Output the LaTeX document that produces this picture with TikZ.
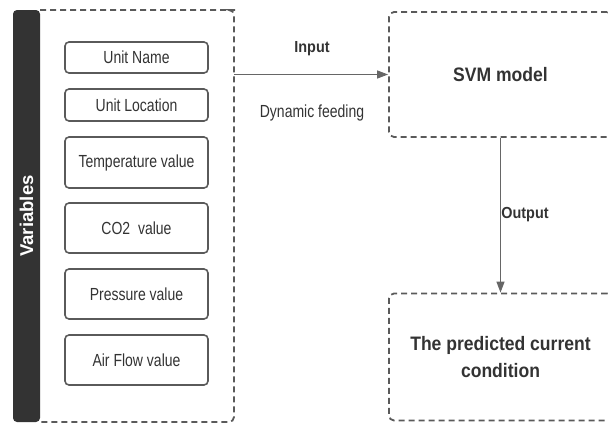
\documentclass[tikz,border=0pt]{standalone}
\usepackage{fontspec}
\setmainfont[FakeStretch=0.8]{Liberation Sans}
\newfontfamily\boldf[FakeStretch=0.9]{Liberation Sans}
\newfontfamily\varfont{Liberation Sans}
\usetikzlibrary{arrows.meta}
\definecolor{txt}{HTML}{333333}
\definecolor{bord}{HTML}{5A5A5A}
\definecolor{bar}{HTML}{333333}
\definecolor{arr}{HTML}{666666}
\tikzset{
  varbox/.style={draw=bord, line width=1.6pt, rounded corners=4pt, minimum width=143pt, text=txt, font=\fontsize{17.5}{20}\selectfont, inner sep=0pt},
  dashbox/.style={draw=bord, line width=1.8pt, dash pattern=on 6pt off 4pt, rounded corners=5pt},
  conn/.style={draw=arr, line width=1.2pt, -{Triangle[length=11pt,width=8pt]}},
  lbl/.style={text=txt, font=\boldf\bfseries\fontsize{16}{18}\selectfont},
  big/.style={text=txt, font=\boldf\bfseries\fontsize{19.5}{27}\selectfont, align=center}
}
\begin{document}
\begin{tikzpicture}[x=1pt,y=-1pt]
\useasboundingbox (0,0) rectangle (608,423);
\clip (0,0) rectangle (608,423);
% Variables container
\node[minimum width=221pt, minimum height=412pt, inner sep=0pt] (vars) at (123.5,216) {};
\fill[bar, rounded corners=4pt] (13,10) rectangle (40,422);
\draw[dashbox] (40,10) -- (230,10) [rounded corners=5pt] -- (234,10) -- (234,422) -- (40,422);
\node[text=white, font=\varfont\bfseries\fontsize{18.5}{20}\selectfont, rotate=90] (varlbl) at (26.5,216) {Variables};
% inner boxes
\node[varbox, minimum height=31pt] (un) at (136.5,57.5) {Unit Name};
\node[varbox, minimum height=32pt] (ul) at (136.5,105) {Unit Location};
\node[varbox, minimum height=51pt] (tv) at (136.5,162.5) {Temperature value};
\node[varbox, minimum height=50pt] (cv) at (136.5,228) {CO2\ \ value};
\node[varbox, minimum height=50pt] (pv) at (136.5,294) {Pressure value};
\node[varbox, minimum height=50pt] (af) at (136.5,360) {Air Flow value};
% SVM model
\node[dashbox, big, minimum width=223pt, minimum height=125pt] (svm) at (500.5,74.5) {SVM model};
% predicted
\node[dashbox, big, minimum width=223pt, minimum height=127pt] (pred) at (500.5,357) {The predicted current\\condition};
% connectors
\coordinate (vin) at (vars.east |- svm.west);
\draw[conn] (vin) -- (svm.west);
\draw[conn] (svm.south) -- (pred.north);
% labels
\node[lbl] (inlbl) at (312,49) {Input};
\node[text=txt, font=\fontsize{17.5}{20}\selectfont] (dyn) at (312,113) {Dynamic feeding};
\node[lbl] (outlbl) at (525,215) {Output};
\end{tikzpicture}
\end{document}
